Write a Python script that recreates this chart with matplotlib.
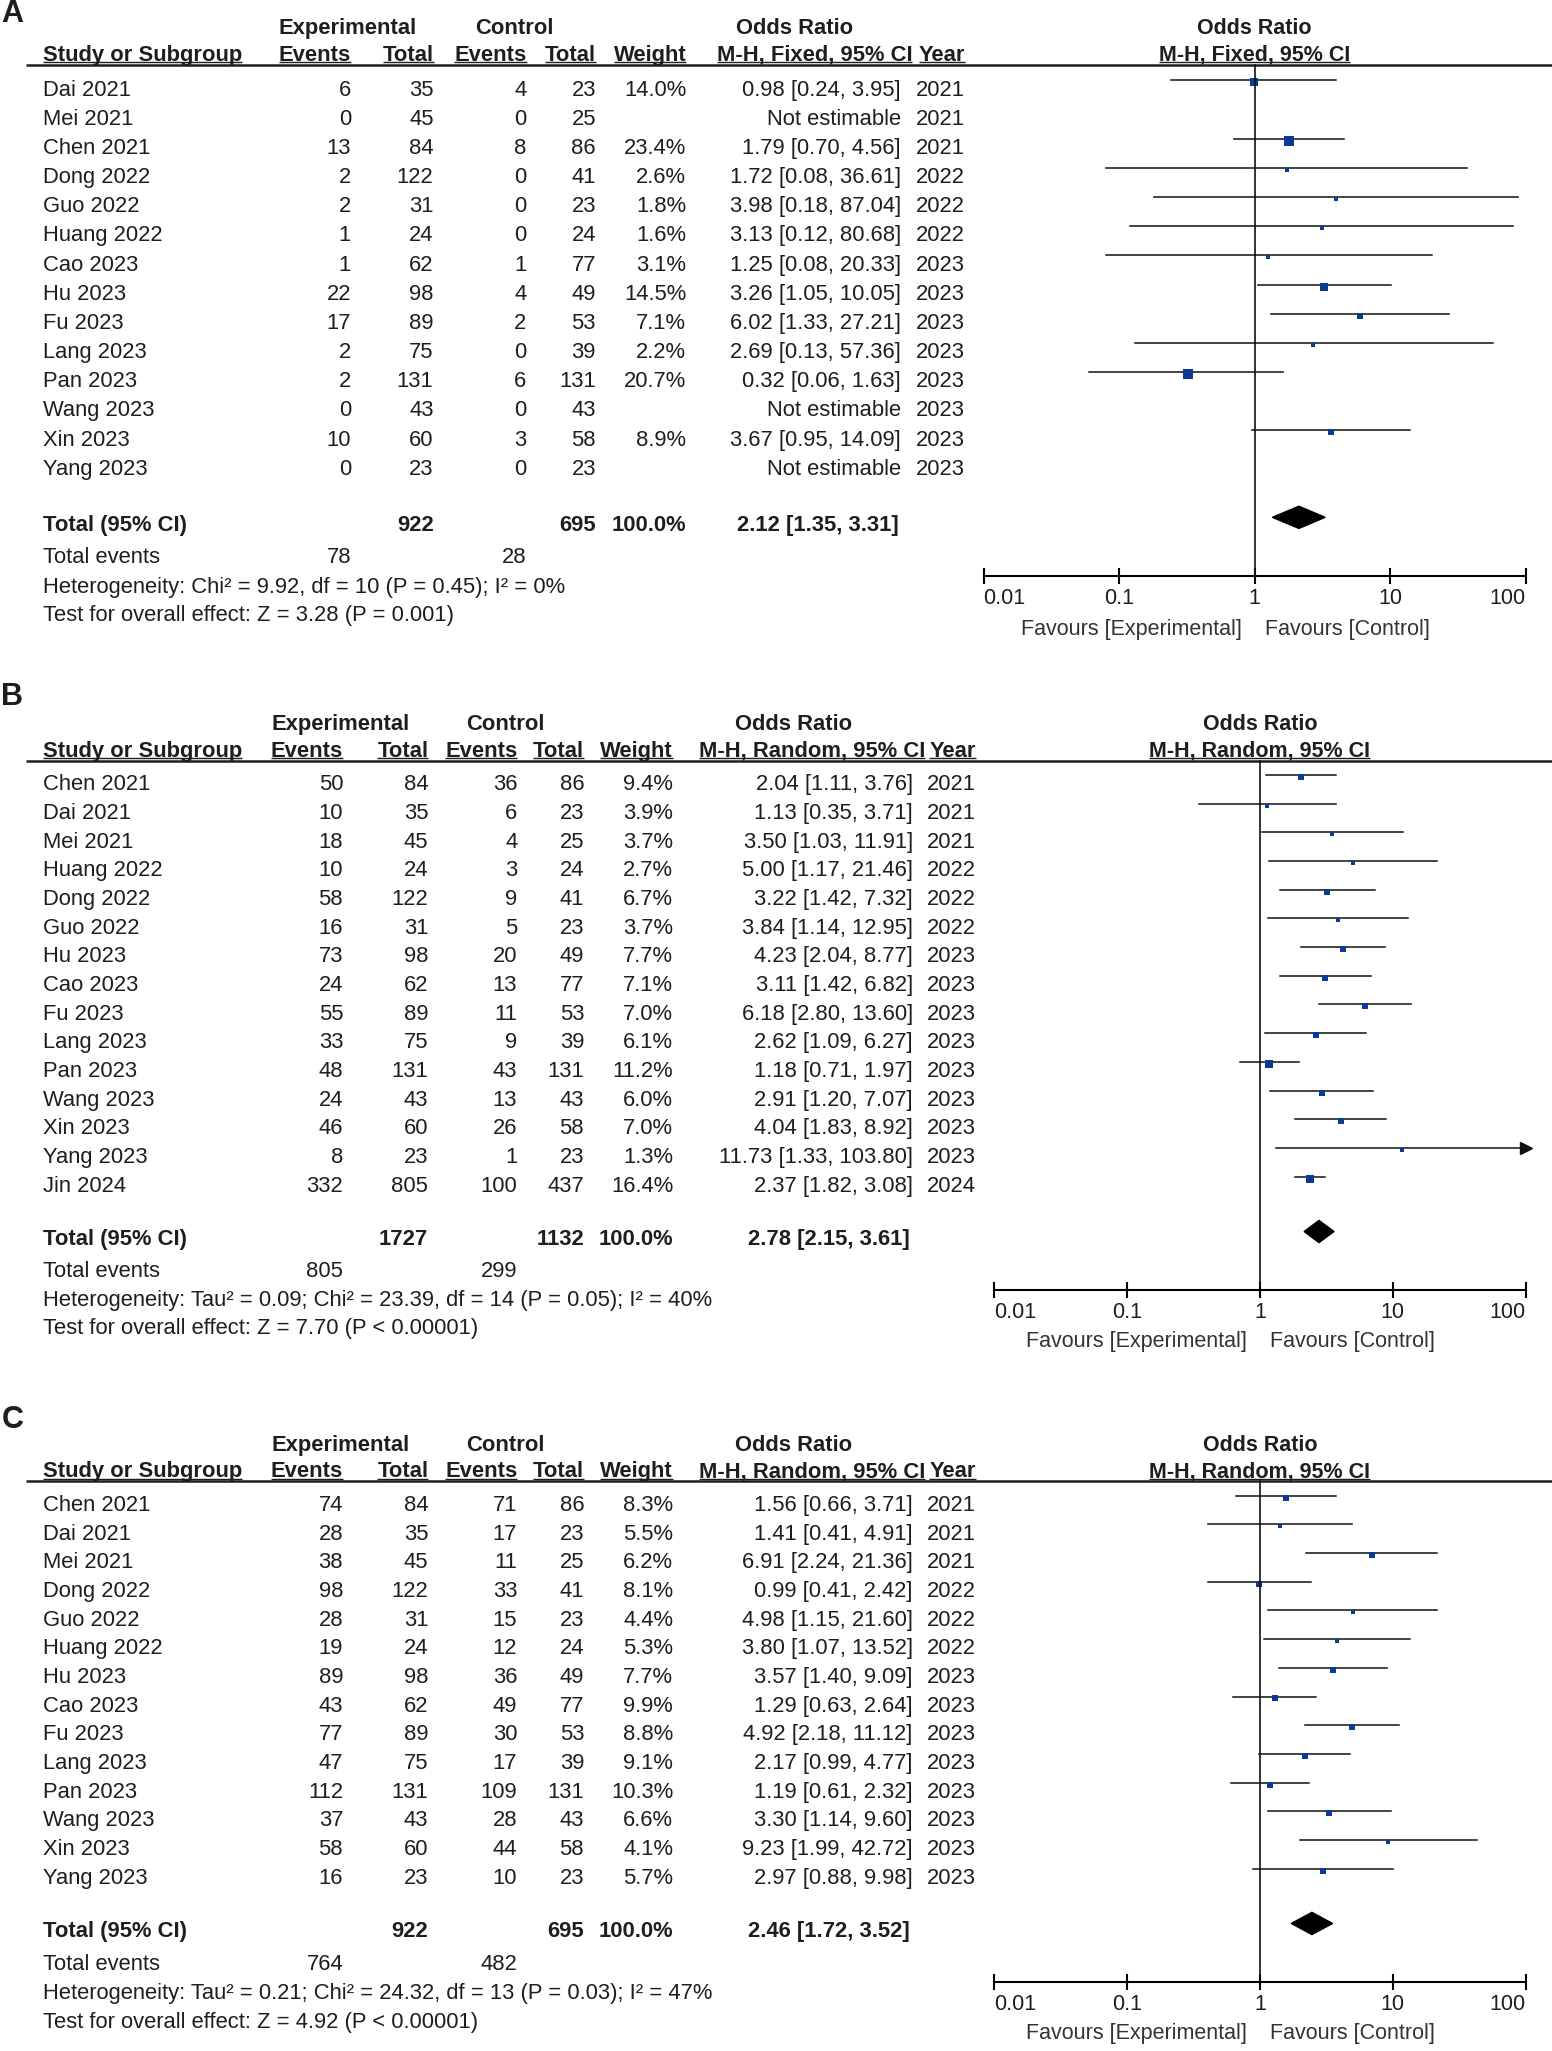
import numpy as np
import matplotlib
matplotlib.use('Agg')
import matplotlib.pyplot as plt
from matplotlib.patches import Polygon
from matplotlib.ticker import NullLocator

# layout units = reference picture scaled to 1185 x 1568
W, H = 1185.0, 1568.0

FONT = 'Liberation Sans'
INK = '#1e1e1e'
BLUE = '#0b3a94'

# ---------------- panel A : M-H fixed ----------------
a_study = ['Dai 2021', 'Mei 2021', 'Chen 2021', 'Dong 2022', 'Guo 2022', 'Huang 2022', 'Cao 2023',
           'Hu 2023', 'Fu 2023', 'Lang 2023', 'Pan 2023', 'Wang 2023', 'Xin 2023', 'Yang 2023']
a_exp_ev = [6, 0, 13, 2, 2, 1, 1, 22, 17, 2, 2, 0, 10, 0]
a_exp_n = [35, 45, 84, 122, 31, 24, 62, 98, 89, 75, 131, 43, 60, 23]
a_ctl_ev = [4, 0, 8, 0, 0, 0, 1, 4, 2, 0, 6, 0, 3, 0]
a_ctl_n = [23, 25, 86, 41, 23, 24, 77, 49, 53, 39, 131, 43, 58, 23]
a_weight = [14.0, None, 23.4, 2.6, 1.8, 1.6, 3.1, 14.5, 7.1, 2.2, 20.7, None, 8.9, None]
a_or = [0.98, None, 1.79, 1.72, 3.98, 3.13, 1.25, 3.26, 6.02, 2.69, 0.32, None, 3.67, None]
a_lo = [0.24, None, 0.70, 0.08, 0.18, 0.12, 0.08, 1.05, 1.33, 0.13, 0.06, None, 0.95, None]
a_hi = [3.95, None, 4.56, 36.61, 87.04, 80.68, 20.33, 10.05, 27.21, 57.36, 1.63, None, 14.09, None]
a_year = [2021, 2021, 2021, 2022, 2022, 2022, 2023, 2023, 2023, 2023, 2023, 2023, 2023, 2023]
a_pooled = [2.12, 1.35, 3.31]
a_het = 'Heterogeneity: Chi² = 9.92, df = 10 (P = 0.45); I² = 0%'
a_test = 'Test for overall effect: Z = 3.28 (P = 0.001)'

# ---------------- panel B : M-H random ----------------
b_study = ['Chen 2021', 'Dai 2021', 'Mei 2021', 'Huang 2022', 'Dong 2022', 'Guo 2022', 'Hu 2023', 'Cao 2023',
           'Fu 2023', 'Lang 2023', 'Pan 2023', 'Wang 2023', 'Xin 2023', 'Yang 2023', 'Jin 2024']
b_exp_ev = [50, 10, 18, 10, 58, 16, 73, 24, 55, 33, 48, 24, 46, 8, 332]
b_exp_n = [84, 35, 45, 24, 122, 31, 98, 62, 89, 75, 131, 43, 60, 23, 805]
b_ctl_ev = [36, 6, 4, 3, 9, 5, 20, 13, 11, 9, 43, 13, 26, 1, 100]
b_ctl_n = [86, 23, 25, 24, 41, 23, 49, 77, 53, 39, 131, 43, 58, 23, 437]
b_weight = [9.4, 3.9, 3.7, 2.7, 6.7, 3.7, 7.7, 7.1, 7.0, 6.1, 11.2, 6.0, 7.0, 1.3, 16.4]
b_or = [2.04, 1.13, 3.50, 5.00, 3.22, 3.84, 4.23, 3.11, 6.18, 2.62, 1.18, 2.91, 4.04, 11.73, 2.37]
b_lo = [1.11, 0.35, 1.03, 1.17, 1.42, 1.14, 2.04, 1.42, 2.80, 1.09, 0.71, 1.20, 1.83, 1.33, 1.82]
b_hi = [3.76, 3.71, 11.91, 21.46, 7.32, 12.95, 8.77, 6.82, 13.60, 6.27, 1.97, 7.07, 8.92, 103.80, 3.08]
b_year = [2021, 2021, 2021, 2022, 2022, 2022, 2023, 2023, 2023, 2023, 2023, 2023, 2023, 2023, 2024]
b_pooled = [2.78, 2.15, 3.61]
b_het = 'Heterogeneity: Tau² = 0.09; Chi² = 23.39, df = 14 (P = 0.05); I² = 40%'
b_test = 'Test for overall effect: Z = 7.70 (P < 0.00001)'

# ---------------- panel C : M-H random ----------------
c_study = ['Chen 2021', 'Dai 2021', 'Mei 2021', 'Dong 2022', 'Guo 2022', 'Huang 2022', 'Hu 2023',
           'Cao 2023', 'Fu 2023', 'Lang 2023', 'Pan 2023', 'Wang 2023', 'Xin 2023', 'Yang 2023']
c_exp_ev = [74, 28, 38, 98, 28, 19, 89, 43, 77, 47, 112, 37, 58, 16]
c_exp_n = [84, 35, 45, 122, 31, 24, 98, 62, 89, 75, 131, 43, 60, 23]
c_ctl_ev = [71, 17, 11, 33, 15, 12, 36, 49, 30, 17, 109, 28, 44, 10]
c_ctl_n = [86, 23, 25, 41, 23, 24, 49, 77, 53, 39, 131, 43, 58, 23]
c_weight = [8.3, 5.5, 6.2, 8.1, 4.4, 5.3, 7.7, 9.9, 8.8, 9.1, 10.3, 6.6, 4.1, 5.7]
c_or = [1.56, 1.41, 6.91, 0.99, 4.98, 3.80, 3.57, 1.29, 4.92, 2.17, 1.19, 3.30, 9.23, 2.97]
c_lo = [0.66, 0.41, 2.24, 0.41, 1.15, 1.07, 1.40, 0.63, 2.18, 0.99, 0.61, 1.14, 1.99, 0.88]
c_hi = [3.71, 4.91, 21.36, 2.42, 21.60, 13.52, 9.09, 2.64, 11.12, 4.77, 2.32, 9.60, 42.72, 9.98]
c_year = [2021, 2021, 2021, 2022, 2022, 2022, 2023, 2023, 2023, 2023, 2023, 2023, 2023, 2023]
c_pooled = [2.46, 1.72, 3.52]
c_het = 'Heterogeneity: Tau² = 0.21; Chi² = 24.32, df = 13 (P = 0.03); I² = 47%'
c_test = 'Test for overall effect: Z = 4.92 (P < 0.00001)'

# ---------------- layout (reference units) ----------------
lay_a = dict(top=0, bottom=505, label=8, h1=20, h2=46.5, line=49.5, row0=67, dy=22.3,
             total=400, events=424, het=447, test=469, axis=440, fav=479,
             fx=(751, 1165), cols=(268, 331, 402, 455, 524, 688, 737), tot_ci=686,
             hx=(265, 393, 607, 622))
lay_b = dict(top=515, bottom=1058, label=530, h1=552, h2=578.5, line=581.5, row0=598, dy=21.93,
             total=946, events=970, het=992, test=1014, axis=986, fav=1024,
             fx=(759, 1165), cols=(262, 327, 395, 446, 514, 697, 745), tot_ci=695,
             hx=(260, 386, 606, 620))
lay_c = dict(top=1066, bottom=1568, label=1083, h1=1103, h2=1129.5, line=1132.5, row0=1149, dy=21.93,
             total=1475, events=1500, het=1522, test=1544, axis=1515, fav=1553,
             fx=(759, 1165), cols=(262, 327, 395, 446, 514, 697, 745), tot_ci=695,
             hx=(260, 386, 606, 620))

fig = plt.figure(figsize=(15.52, 20.51), dpi=100)
PX = 1552.0 / W   # output pixels per layout unit

# size the table font so the heterogeneity line is as wide as in the reference (399 units)
probe = fig.text(0, 0, a_het, family=FONT, fontsize=10)
fig.canvas.draw()
TSIZE = 10 * 399 * PX / probe.get_window_extent(fig.canvas.get_renderer()).width
probe.remove()
PSIZE = 15.5   # forest plot texts

underlines = []


def txt(ax, x, y, s, ha='left', bold=False, va='center_baseline', size=None, color=INK):
    return ax.text(x, y, s, ha=ha, va=va, fontweight='bold' if bold else 'normal',
                   family=FONT, fontsize=size or TSIZE, color=color)


def draw_panel(letter, method, lay, study, exp_ev, exp_n, ctl_ev, ctl_n, weight, orr, lo, hi, year,
               pooled, het, test):
    top, bot = lay['top'], lay['bottom']
    tab = fig.add_axes([0, 1 - bot / H, 1, (bot - top) / H])
    tab.set_xlim(0, W)
    tab.set_ylim(bot, top)
    tab.axis('off')

    x0, x1 = lay['fx']
    fr = fig.add_axes([x0 / W, 1 - bot / H, (x1 - x0) / W, (bot - top) / H])
    fr.set_xscale('log')
    fr.set_xlim(0.01, 100)
    fr.set_ylim(bot, top)
    fr.patch.set_visible(False)
    for s in ['top', 'left', 'right']:
        fr.spines[s].set_visible(False)
    fr.spines['bottom'].set_position(('data', lay['axis']))
    fr.spines['bottom'].set_linewidth(1.5)
    fr.set_yticks([])
    fr.set_xticks([0.01, 0.1, 1, 10, 100])
    fr.set_xticklabels(['0.01', '0.1', '1', '10', '100'], family=FONT, fontsize=PSIZE, color=INK)
    fr.xaxis.set_minor_locator(NullLocator())
    fr.tick_params(axis='x', direction='inout', length=12, width=1.5, pad=3)
    ticks = fr.xaxis.get_major_ticks()
    ticks[0].label1.set_horizontalalignment('left')
    ticks[-1].label1.set_horizontalalignment('right')

    ee, et, ce, ct, wt, cx, yx = lay['cols']
    hxe, hxc, hxo, hxm = lay['hx']

    # panel letter and headers
    txt(tab, 1, lay['label'], letter, bold=True, size=22)
    h1 = lay['h1']
    txt(tab, hxe, h1, 'Experimental', 'center', True)
    txt(tab, hxc, h1, 'Control', 'center', True)
    txt(tab, hxo, h1, 'Odds Ratio', 'center', True)
    txt(fr, 1, h1, 'Odds Ratio', 'center', True, size=PSIZE)
    h2 = lay['h2']
    for x, s, ha in [(33, 'Study or Subgroup', 'left'), (ee, 'Events', 'right'), (et, 'Total', 'right'),
                     (ce, 'Events', 'right'), (ct, 'Total', 'right'), (wt, 'Weight', 'right'),
                     (hxm, method, 'center'), (yx, 'Year', 'right')]:
        underlines.append((tab, txt(tab, x, h2, s, ha, True, va='baseline'), h2 + 1.2))
    underlines.append((fr, txt(fr, 1, h2, method, 'center', True, va='baseline', size=PSIZE), h2 + 1.2))
    tab.plot([20, W], [lay['line'], lay['line']], color=INK, lw=1.8, solid_capstyle='butt')

    # study rows
    for i, name in enumerate(study):
        y = lay['row0'] + i * lay['dy']
        txt(tab, 33, y, name)
        txt(tab, ee, y, str(exp_ev[i]), 'right')
        txt(tab, et, y, str(exp_n[i]), 'right')
        txt(tab, ce, y, str(ctl_ev[i]), 'right')
        txt(tab, ct, y, str(ctl_n[i]), 'right')
        txt(tab, yx, y, str(year[i]), 'right')
        if orr[i] is None:
            txt(tab, cx, y, 'Not estimable', 'right')
            continue
        txt(tab, wt, y, f'{weight[i]:.1f}%', 'right')
        txt(tab, cx, y, f'{orr[i]:.2f} [{lo[i]:.2f}, {hi[i]:.2f}]', 'right')
        yl = y - 5.5
        fr.plot([lo[i], min(hi[i], 100)], [yl, yl], color='#111111', lw=1.1, clip_on=False)
        if hi[i] > 100:
            fr.plot([100], [yl], marker='>', color='#111111', ms=8, clip_on=False)
        # square side grows with the square root of the weight
        side = max(3.8, 2.1 * np.sqrt(weight[i])) * 0.72
        fr.plot([orr[i]], [y - 4], marker='s', ms=side, color=BLUE, mec=BLUE, mew=0)

    # totals
    ty = lay['total']
    txt(tab, 33, ty, 'Total (95% CI)', bold=True)
    txt(tab, et, ty, str(sum(exp_n)), 'right', True)
    txt(tab, ct, ty, str(sum(ctl_n)), 'right', True)
    txt(tab, wt, ty, '100.0%', 'right', True)
    txt(tab, lay['tot_ci'], ty, f'{pooled[0]:.2f} [{pooled[1]:.2f}, {pooled[2]:.2f}]', 'right', True)
    dh = 8.5
    yd = ty - 4.5
    fr.add_patch(Polygon([(pooled[1], yd), (pooled[0], yd - dh), (pooled[2], yd), (pooled[0], yd + dh)],
                         closed=True, color='black'))
    ey = lay['events']
    txt(tab, 33, ey, 'Total events')
    txt(tab, ee, ey, str(sum(exp_ev)), 'right')
    txt(tab, ce, ey, str(sum(ctl_ev)), 'right')
    txt(tab, 33, lay['het'], het)
    txt(tab, 33, lay['test'], test)

    # null line and favours labels
    fr.plot([1, 1], [lay['line'], lay['axis']], color='#111111', lw=1.2)
    fr.annotate('Favours [Experimental]', xy=(1, lay['fav']), xytext=(-9.5, 0), textcoords='offset points',
                ha='right', va='center_baseline', family=FONT, fontsize=PSIZE, color='#333333')
    fr.annotate('Favours [Control]', xy=(1, lay['fav']), xytext=(7.5, 0), textcoords='offset points',
                ha='left', va='center_baseline', family=FONT, fontsize=PSIZE, color='#333333')


draw_panel('A', 'M-H, Fixed, 95% CI', lay_a, a_study, a_exp_ev, a_exp_n, a_ctl_ev, a_ctl_n, a_weight,
           a_or, a_lo, a_hi, a_year, a_pooled, a_het, a_test)
draw_panel('B', 'M-H, Random, 95% CI', lay_b, b_study, b_exp_ev, b_exp_n, b_ctl_ev, b_ctl_n, b_weight,
           b_or, b_lo, b_hi, b_year, b_pooled, b_het, b_test)
draw_panel('C', 'M-H, Random, 95% CI', lay_c, c_study, c_exp_ev, c_exp_n, c_ctl_ev, c_ctl_n, c_weight,
           c_or, c_lo, c_hi, c_year, c_pooled, c_het, c_test)

# underline the second header row
fig.canvas.draw()
rend = fig.canvas.get_renderer()
for ax, t, uy in underlines:
    bb = t.get_window_extent(rend)
    inv = ax.transData.inverted()
    (ux0, _), (ux1, _) = inv.transform([(bb.x0, bb.y0), (bb.x1, bb.y0)])
    ax.plot([ux0, ux1], [uy, uy], color=INK, lw=1.0, solid_capstyle='butt', clip_on=False)

fig.savefig('out.png', dpi=100)
